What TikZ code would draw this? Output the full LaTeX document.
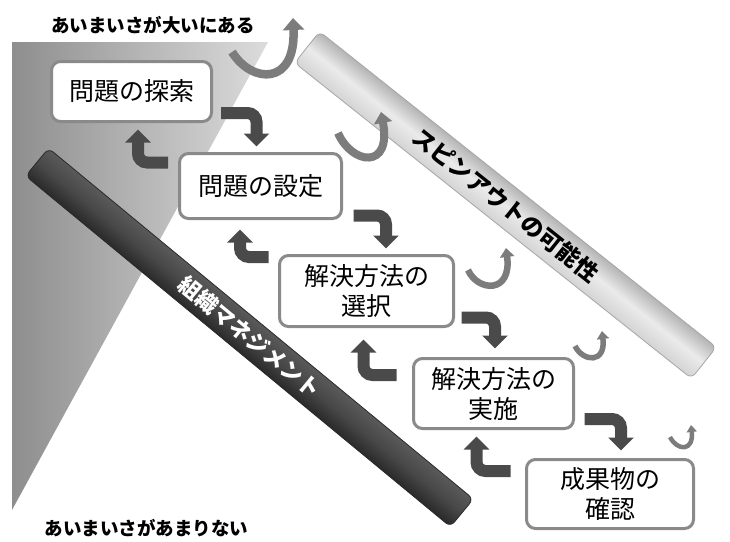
\documentclass[tikz,border=0pt]{standalone}
\usepackage{fontspec}
\newfontfamily\jp{Noto Sans CJK JP}
\usetikzlibrary{arrows.meta,calc}
\definecolor{boxgray}{HTML}{8A8A8A}
\definecolor{arrdark}{HTML}{4A4A4A}
\definecolor{spingray}{HTML}{7C7C7C}
\definecolor{triL}{HTML}{8E8E8E}
\definecolor{triR}{HTML}{DCDCDC}
\definecolor{barD1}{HTML}{5A5A5A}
\definecolor{barD2}{HTML}{2A2A2A}
\definecolor{barL1}{HTML}{D4D4D4}
\definecolor{barL2}{HTML}{B4B4B4}
\begin{document}
\begin{tikzpicture}[x=1pt,y=-1pt,
  box/.style={draw=boxgray, line width=3pt, rounded corners=9pt, fill=white,
    align=center, inner sep=0pt, font=\jp\fontsize{25}{30}\selectfont},
  darr/.style={draw=arrdark, line width=12pt, rounded corners=9pt,
    -{Triangle[width=25pt,length=13pt]}},
  spin/.style={draw=spingray},
  lab/.style={font=\jp\bfseries\fontsize{18.5}{20}\selectfont},
  spintext/.style={font=\jp\bfseries\fontsize{23}{25}\selectfont, text=black},
  mgmttext/.style={font=\jp\bfseries\fontsize{22}{24}\selectfont, text=white}]
\useasboundingbox (0,0) rectangle (730,541);
\fill[white] (0,0) rectangle (730,541);

% ambiguity wedge
\shade[left color=triL, right color=triR] (12,42) -- (268,42) -- (12,510) -- cycle;

% light bar (spin-out)
\begin{scope}[transform canvas={shift={(505.5,205)}, rotate=-38.5}]
  \shade[draw=gray!70, line width=0.8pt, rounded corners=6pt,
    top color=barL2, bottom color=barL1, middle color=white!92!black]
    (-253.5,-20) rectangle (253.5,20);
  \node[spintext] (spin) at (0,0) {スピンアウトの可能性};
\end{scope}

% dark bar (management)
\begin{scope}[transform canvas={shift={(249.5,337.5)}, rotate=-39.55}]
  \shade[draw=barD2, line width=0.8pt, rounded corners=6pt,
    top color=barD1, bottom color=barD2, middle color=barD1!80!black]
    (-275.5,-18) rectangle (275.5,18);
  \node[mgmttext] (mgmt) at (0,0) {組織マネジメント};
\end{scope}

% labels
\node[lab] (top) at (153,25) {あいまいさが大いにある};
\node[lab] (bot) at (146.5,528) {あいまいさがあまりない};

% boxes
\node[box, minimum width=160pt, minimum height=60pt] (b1) at (131.5,91.5) {問題の探索};
\node[box, minimum width=162pt, minimum height=65pt] (b2) at (260.5,186) {問題の設定};
\node[box, minimum width=174pt, minimum height=71pt] (b3) at (366.5,291) {解決方法の\\選択};
\node[box, minimum width=160pt, minimum height=70pt] (b4) at (493.5,393.5) {解決方法の\\実施};
\node[box, minimum width=167pt, minimum height=69pt] (b5) at (610,494) {成果物の\\確認};

% forward arrows
\draw[darr] ($(b1.south east)+(8,-10)$) -| ($(b2.north)+(-4,-5.5)$);
\draw[darr] ($(b2.south east)+(10.5,-4.5)$) -| ($(b3.north)+(19.5,-5.5)$);
\draw[darr] ($(b3.south east)+(6.5,-10.5)$) -| ($(b4.north)+(1.5,-8.5)$);
\draw[darr] ($(b4.south east)+(9.5,-11)$) -| ($(b5.north)+(11,-7.5)$);

% return arrows
\draw[darr] ($(b2.west)+(-10,-23.5)$) -| ($(b1.south)+(6.5,6.5)$);
\draw[darr] ($(b3.west)+(-9.5,-34)$) -| ($(b2.south)+(-20.5,9.5)$);
\draw[darr] ($(b4.west)+(-15.5,-18.5)$) -| ($(b3.south)+(-3,11.5)$);
\draw[darr] ($(b5.west)+(-14.5,-23)$) -| ($(b4.south)+(-17,6.5)$);

% spin-out arrows
\draw[spin, line width=8.5pt, -{Triangle[width=21pt,length=12pt]}]
  (232,52) .. controls (252,84) and (296,86) .. (293,18);
\draw[spin, line width=8pt, -{Triangle[width=18pt,length=11pt]}]
  (338,133) .. controls (352,165) and (392,170) .. (381,112);
\draw[spin, line width=6.5pt, -{Triangle[width=14pt,length=9pt]}]
  (468,270) .. controls (478,292) and (512,294) .. (506,248);
\draw[spin, line width=5.5pt, -{Triangle[width=12pt,length=8pt]}]
  (575,346) .. controls (583,362) and (606,364) .. (602,331);
\draw[spin, line width=4.5pt, -{Triangle[width=10pt,length=7pt]}]
  (670,437) .. controls (677,451) and (694,452) .. (691,425);
\end{tikzpicture}
\end{document}
